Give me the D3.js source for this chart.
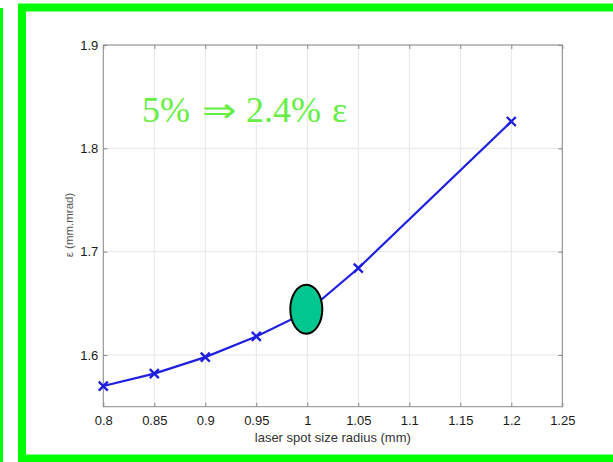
<!DOCTYPE html>
<html><head><meta charset="utf-8">
<script src="https://cdn.jsdelivr.net/npm/d3@7"></script>
<style>html,body{margin:0;padding:0;background:#fff;overflow:hidden}</style>
</head><body>
<svg id="c" width="613" height="462"></svg>
<script>
const xValues = [0.8, 0.85, 0.9, 0.95, 1.0, 1.05, 1.2];
const emittance = [1.570, 1.582, 1.598, 1.618, 1.642, 1.684, 1.826];
const xTicks = [0.8, 0.85, 0.9, 0.95, 1, 1.05, 1.1, 1.15, 1.2, 1.25];
const yTicks = [1.6, 1.7, 1.8, 1.9];
const xTickLabels = ["0.8","0.85","0.9","0.95","1","1.05","1.1","1.15","1.2","1.25"];
const yTickLabels = ["1.6","1.7","1.8","1.9"];
const xTitle = "laser spot size radius (mm)";
const yTitle = "ε (mm.mrad)";
const annotationParts = ["5%", "⇒", "2.4%", "ε"];
const highlightX = 1.0;

const svg = d3.select("#c");
const green = "#00ff00";

// frame decorations
svg.append("rect").attr("x",0).attr("y",8).attr("width",3).attr("height",454).attr("fill",green);
svg.append("rect").attr("x",22).attr("y",7.5).attr("width",640).attr("height",451)
  .attr("fill","none").attr("stroke",green).attr("stroke-width",8);

const L=103.3, R=562.3, T=45, B=406.7;
const x = d3.scaleLinear().domain([0.8,1.25]).range([L,R]);
const y = d3.scaleLinear().domain([1.55,1.9]).range([B,T]);

// grid
svg.append("g").selectAll("line").data(xTicks).join("line")
  .attr("x1",d=>x(d)).attr("x2",d=>x(d)).attr("y1",T).attr("y2",B)
  .attr("stroke","#e6e6e6").attr("stroke-width",1);
svg.append("g").selectAll("line").data(yTicks).join("line")
  .attr("y1",d=>y(d)).attr("y2",d=>y(d)).attr("x1",L).attr("x2",R)
  .attr("stroke","#e6e6e6").attr("stroke-width",1);

// axes
const fmtX = d => xTickLabels[xTicks.indexOf(d)];
const fmtY = d => yTickLabels[yTicks.indexOf(d)];
const axStyle = g => {
  g.select(".domain").remove();
  g.selectAll(".tick line").attr("stroke","#888");
  g.selectAll(".tick text").attr("fill","#1a1a1a").attr("font-family","'Liberation Sans',Arial,sans-serif").attr("font-size","13px");
};
svg.append("g").attr("transform",`translate(0,${B})`)
  .call(d3.axisBottom(x).tickValues(xTicks).tickFormat(fmtX).tickSizeInner(-4).tickSizeOuter(0).tickPadding(9))
  .call(axStyle);
svg.append("g").attr("transform",`translate(0,${T})`)
  .call(d3.axisTop(x).tickValues(xTicks).tickFormat("").tickSizeInner(-4).tickSizeOuter(0))
  .call(axStyle);
svg.append("g").attr("transform",`translate(${L},0)`)
  .call(d3.axisLeft(y).tickValues(yTicks).tickFormat(fmtY).tickSizeInner(-4).tickSizeOuter(0).tickPadding(5))
  .call(axStyle);
svg.append("g").attr("transform",`translate(${R},0)`)
  .call(d3.axisRight(y).tickValues(yTicks).tickFormat("").tickSizeInner(-4).tickSizeOuter(0))
  .call(axStyle);
svg.append("rect").attr("x",L).attr("y",T).attr("width",R-L).attr("height",B-T)
  .attr("fill","none").attr("stroke","#8a8a8a").attr("stroke-width",1);

// titles
svg.append("text").attr("x",(L+R)/2).attr("y",442).attr("text-anchor","middle")
  .attr("font-family","'Liberation Sans',Arial,sans-serif").attr("font-size","13px").attr("fill","#333").text(xTitle);
svg.append("text").attr("transform",`translate(73,${225}) rotate(-90)`).attr("text-anchor","middle")
  .attr("font-family","'Liberation Sans',Arial,sans-serif").attr("font-size","11.5px").attr("fill","#555").text(yTitle);

// line + markers
const pts = xValues.map((v,i)=>[v,emittance[i]]);
svg.append("path").datum(pts)
  .attr("d", d3.line().x(d=>x(d[0])).y(d=>y(d[1])))
  .attr("fill","none").attr("stroke","#1f1fe0").attr("stroke-width",2.2);
const m = 4.5;
svg.append("g").selectAll("path").data(pts).join("path")
  .attr("d", d=>{const cx=x(d[0]), cy=y(d[1]); return `M${cx-m},${cy-m}L${cx+m},${cy+m}M${cx-m},${cy+m}L${cx+m},${cy-m}`;})
  .attr("stroke","#1f1fe0").attr("stroke-width",2.4).attr("fill","none");

// highlight ellipse
svg.append("ellipse").attr("cx",x(highlightX)-1).attr("cy",309.2).attr("rx",16).attr("ry",24.5)
  .attr("fill","#00c690").attr("stroke","#000").attr("stroke-width",2);

// annotation: pieces placed to match the reference spacing
const annFont = "'Liberation Serif','Times New Roman',serif";
const annG = svg.append("g").attr("fill","#66ee44").attr("font-family",annFont).attr("font-size","36px");
annG.append("text").attr("x",142).attr("y",122).text(annotationParts[0]);
const arrow = annG.append("text").attr("y",122).attr("font-size","34px").text(annotationParts[1]);
const aw = arrow.node().getComputedTextLength() || 34;
arrow.attr("transform",`translate(202,0) scale(${34/aw},1)`).attr("x",0);
annG.append("text").attr("x",246).attr("y",122).text(annotationParts[2]);
annG.append("text").attr("x",332).attr("y",122).text(annotationParts[3]);
</script>
</body></html>
